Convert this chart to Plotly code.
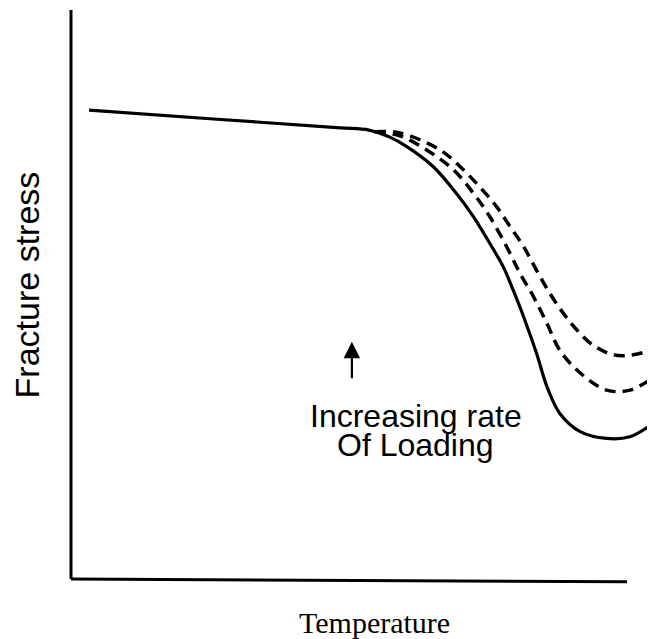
import plotly.graph_objects as go

# Solid curve (lowest rate of loading)
solid_x = [3.1, 25.0, 46.1, 51.0, 54.5, 57.5, 62.0, 65.5, 68.9, 71.7, 74.0, 75.7, 77.5,
           79.7, 81.5, 83.7, 87.2, 91.7, 95.7, 100.0]
solid_y = [82.4, 80.8, 79.3, 78.9, 77.7, 76.0, 72.5, 68.4, 63.7, 59.0, 54.9, 50.8, 46.1,
           39.7, 33.8, 29.1, 25.9, 24.7, 25.0, 27.6]

# Middle dashed curve
mid_x = [52.0, 56.3, 60.9, 65.5, 68.9, 71.7, 74.6, 76.9, 79.2, 81.5, 83.7, 87.2, 91.7, 95.7, 100.0]
mid_y = [78.6, 77.9, 75.4, 71.9, 67.8, 63.7, 58.4, 53.7, 49.6, 44.9, 40.2, 36.2, 33.2, 33.2, 35.6]

# Upper dashed curve
top_x = [52.0, 56.3, 63.2, 66.6, 70.0, 72.9, 75.2, 77.5, 79.7, 82.0, 84.3, 86.6, 89.4, 92.9, 96.3, 100.0]
top_y = [78.6, 78.4, 75.4, 72.5, 68.9, 65.4, 61.9, 58.4, 54.3, 50.2, 46.7, 43.8, 41.1, 39.4, 39.4, 40.5]

label_lines = ["Increasing rate", "Of Loading"]
label_x = 59.0
label_y = [28.7, 23.6]
arrow_x = 48.1
arrow_y = 41.7

fig = go.Figure()
fig.add_trace(go.Scatter(x=top_x, y=top_y, mode="lines", line_shape="spline",
                         line=dict(color="black", width=3.5, dash="11px,7px"),
                         showlegend=False, hoverinfo="skip"))
fig.add_trace(go.Scatter(x=mid_x, y=mid_y, mode="lines", line_shape="spline",
                         line=dict(color="black", width=3.5, dash="11px,7px"),
                         showlegend=False, hoverinfo="skip"))
fig.add_trace(go.Scatter(x=solid_x, y=solid_y, mode="lines", line_shape="spline",
                         line=dict(color="black", width=3.2),
                         showlegend=False, hoverinfo="skip"))

# axes lines
fig.add_shape(type="line", xref="paper", yref="paper", x0=0, y0=0, x1=0, y1=1,
              line=dict(color="black", width=3))
fig.add_shape(type="line", xref="paper", yref="paper", x0=0, y0=0, x1=0.952, y1=-0.005,
              line=dict(color="black", width=3))

# arrow
fig.add_annotation(x=arrow_x, y=arrow_y, ax=0, ay=38, text="", showarrow=True,
                   arrowhead=2, arrowwidth=2.2, arrowsize=1.5, arrowcolor="black")

for t, yy in zip(label_lines, label_y):
    fig.add_annotation(x=label_x, y=yy, text=t, showarrow=False, xanchor="center",
                       yanchor="middle",
                       font=dict(family="Liberation Sans, Arial", size=32, color="black"))

fig.add_annotation(xref="paper", yref="paper", x=0, y=0.516, xshift=-44, text="Fracture stress",
                   textangle=-90, showarrow=False, xanchor="center", yanchor="middle",
                   font=dict(family="Liberation Sans, Arial", size=34, color="black"))
fig.add_annotation(xref="paper", yref="paper", x=0.5205, y=0, yshift=-43, text="Temperature",
                   showarrow=False, xanchor="center", yanchor="middle",
                   font=dict(family="Liberation Serif, Times New Roman", size=30, color="black"))

# page body has an 8px default margin, so the figure is offset by 8px
fig.update_layout(
    width=647, height=631,
    margin=dict(l=63, r=0, t=2, b=60),
    paper_bgcolor="white", plot_bgcolor="white",
    xaxis=dict(range=[0, 100], visible=False, fixedrange=True),
    yaxis=dict(range=[0, 100], visible=False, fixedrange=True),
)

fig.write_html("out.html")
